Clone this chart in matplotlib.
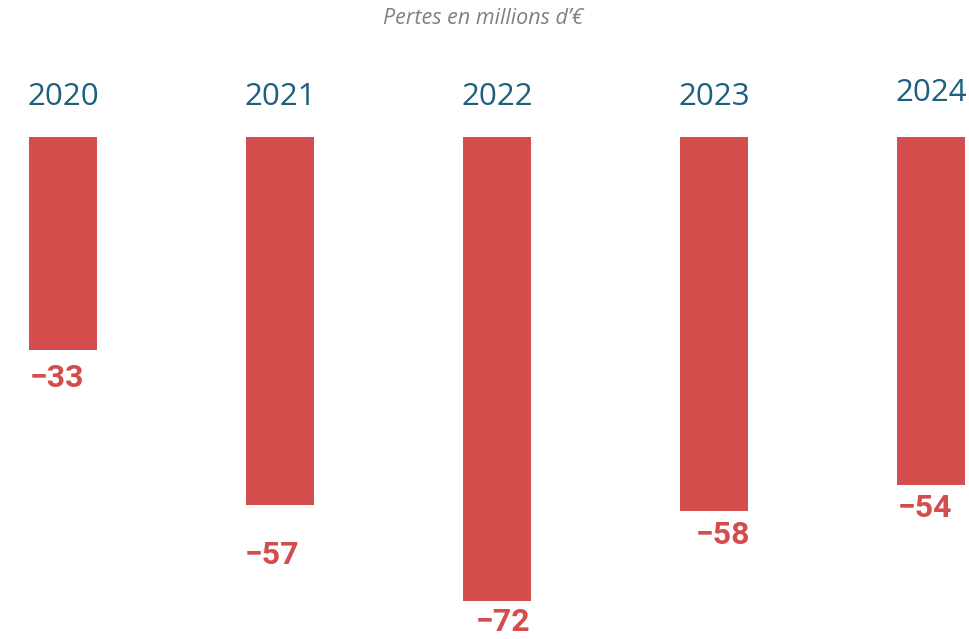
import matplotlib.pyplot as plt

# data
years = ["2020", "2021", "2022", "2023", "2024"]
losses = [-33, -57, -72, -58, -54]

# label nudges in pixels (dx, dy below bar end)
label_dx = [-6, -8, 6, 9, -6]
label_dy = [28, 50, 21, 24, 23]
year_dy = [0, 0, 0, 0, 4]

bar_color = "#d34d4c"
year_color = "#1e5f7f"

fig = plt.figure(figsize=(9.7, 6.39), dpi=100)
ax = fig.add_axes([0, 0, 1, 1])

px = 6.45  # pixels per million
x = list(range(len(years)))
ax.bar(x, losses, width=68 / 217, color=bar_color)

ax.set_xlim(-63 / 217, (970 - 63) / 217)
ax.set_ylim(-(639 - 137) / px, 137 / px)
ax.axis("off")

for i, (yr, v) in enumerate(zip(years, losses)):
    ax.text(i, (137 - 97 + year_dy[i]) / px, yr, ha="center", va="center",
            fontsize=22.5, color=year_color, family="Open Sans")
    ax.annotate(f"\u2212{abs(v)}", (i, v), xytext=(label_dx[i] * 0.72, -label_dy[i] * 0.72),
                textcoords="offset points", ha="center", va="center",
                fontsize=23, fontweight="bold", color=bar_color, family="Roboto")

fig.text(483 / 970, 1 - 19 / 639, "Pertes en millions d\u2019\u20ac", ha="center", va="center",
         fontsize=15.5, style="italic", color="#808080", family="Open Sans")

fig.savefig("out.png", dpi=100)
